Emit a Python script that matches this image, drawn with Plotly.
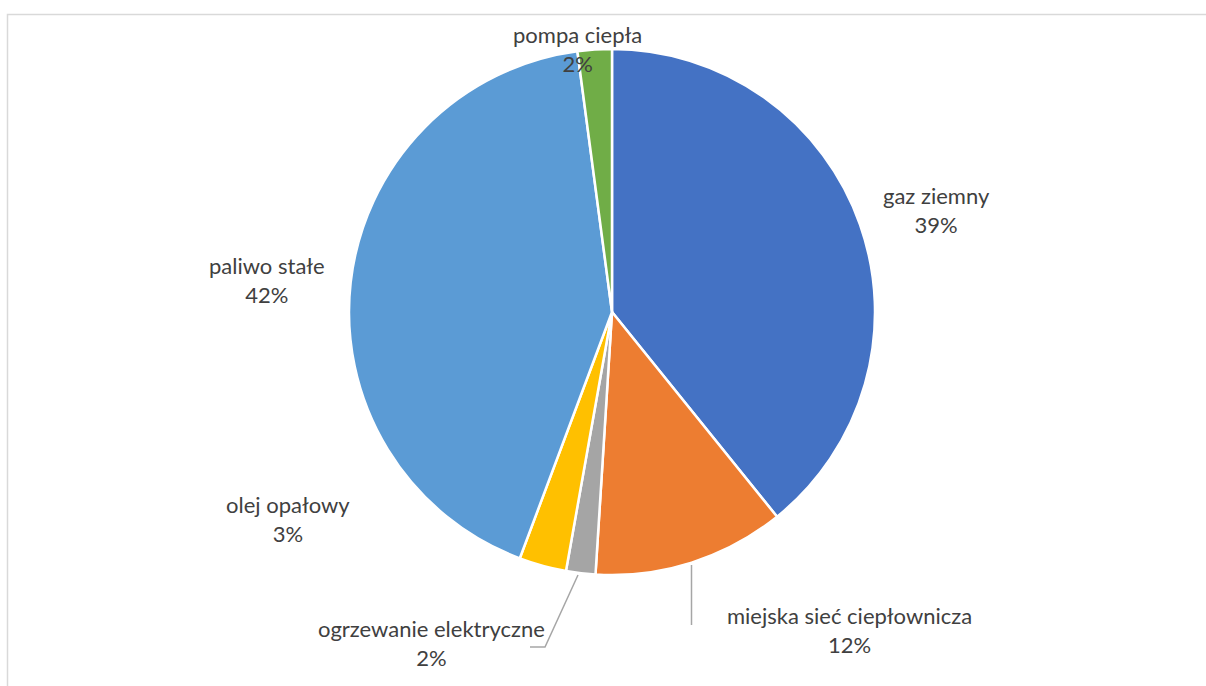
import plotly.graph_objects as go

labels = ["gaz ziemny", "miejska sieć ciepłownicza", "ogrzewanie elektryczne",
          "olej opałowy", "paliwo stałe", "pompa ciepła"]
values = [39.2, 11.8, 1.8, 2.9, 42.2, 2.1]
colors = ["#4472C4", "#ED7D31", "#A5A5A5", "#FFC000", "#5B9BD5", "#70AD47"]

W, H = 1206, 686
# label block centres (pixels) - layout only
label_pos = [(936, 210), (849, 630), (431, 643), (288, 519), (267, 280), (577, 49)]

fig = go.Figure(go.Pie(
    labels=labels, values=values, sort=False, direction="clockwise", rotation=0,
    marker=dict(colors=colors, line=dict(color="white", width=2.5)),
    textinfo="none", hoverinfo="label+percent", showlegend=False,
    domain=dict(x=[349 / W, 875 / W], y=[1 - 575 / H, 1 - 49 / H]),
))

total = sum(values)
annotations = []
for lab, v, (px, py) in zip(labels, values, label_pos):
    annotations.append(dict(
        text=f"{lab}<br>{round(v / total * 100)}%", x=px / W, y=1 - py / H,
        xref="paper", yref="paper", xanchor="center", yanchor="middle",
        showarrow=False, font=dict(family="Lato", size=22, color="#404040"),
    ))

def P(x, y):
    return x / W, 1 - y / H

shapes = [
    dict(type="rect", xref="paper", yref="paper",
         x0=7.5 / W, x1=1.05, y0=-0.05, y1=1 - 14.5 / H,
         line=dict(color="#D9D9D9", width=1.5), fillcolor="rgba(0,0,0,0)"),
]
x0, y0 = P(691.5, 565); x1, y1 = P(691.5, 625)
shapes.append(dict(type="line", xref="paper", yref="paper", x0=x0, y0=y0, x1=x1, y1=y1,
                   line=dict(color="#A6A6A6", width=1.5)))
pts = [P(578, 575), P(545, 647), P(530, 647)]
path = "M {} {} L {} {} L {} {}".format(*pts[0], *pts[1], *pts[2])
shapes.append(dict(type="path", xref="paper", yref="paper", path=path,
                   line=dict(color="#A6A6A6", width=1.5)))

fig.update_layout(
    width=W, height=H, margin=dict(l=0, r=0, t=0, b=0),
    paper_bgcolor="white", plot_bgcolor="white",
    annotations=annotations, shapes=shapes,
)
fig.write_html("out.html", config={"displayModeBar": False},
               post_script="document.body.style.margin='0';document.body.style.overflow='hidden';")
